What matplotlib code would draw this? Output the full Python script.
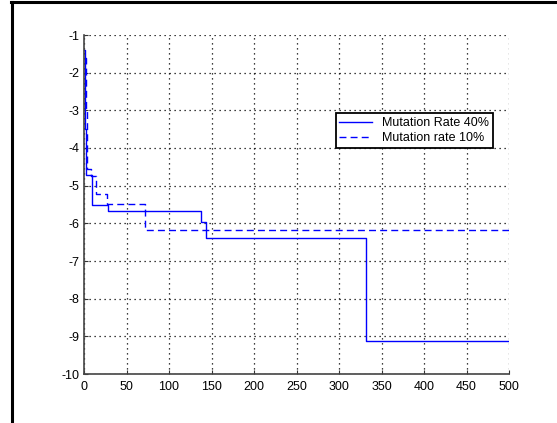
import matplotlib
matplotlib.use("Agg")
import matplotlib.pyplot as plt
from matplotlib.lines import Line2D

plt.rcParams['font.family'] = ['Liberation Sans', 'DejaVu Sans']
plt.rcParams['axes.unicode_minus'] = False

# step points (x where the value starts, value)
x40 = [0, 1, 1.5, 2, 9, 28, 138, 143, 332, 500]
y40 = [-1.4, -1.4, -3.5, -4.72, -5.52, -5.68, -5.96, -6.38, -9.12, -9.12]

x10 = [1, 2, 3, 4, 8, 14, 27, 72, 500]
y10 = [-1.6, -3.0, -4.2, -4.55, -4.75, -5.22, -5.5, -6.18, -6.18]

labels = ['Mutation Rate 40%', 'Mutation rate 10%']
xticks = list(range(0, 501, 50))
yticks = list(range(-10, 0))

fig = plt.figure(figsize=(5.57, 4.23), dpi=100)
ax = fig.add_axes([84/557, 1 - 374/423, 425/557, 339/423])

ax.step(x40, y40, where='post', color='#0000ff', lw=1.0, label=labels[0])
ax.step(x10, y10, where='post', color='#0000ff', lw=1.0, ls=(0, (5, 3)), label=labels[1])

ax.set_xlim(0, 500)
ax.set_ylim(-10, -1)
ax.set_xticks(xticks)
ax.set_yticks(yticks)
ax.tick_params(direction='in', length=3, labelsize=9, color='#333333')
ax.tick_params(axis='x', pad=5)
ax.grid(True, color='black', ls=(0, (1, 3)), lw=0.9)
for s in ['top', 'right']:
    ax.spines[s].set_visible(False)
for s in ['left', 'bottom']:
    ax.spines[s].set_color('#444444')
    ax.spines[s].set_linewidth(1.2)

leg = ax.legend(loc='upper left', bbox_to_anchor=(335.7/557, 1 - 113.3/423),
                bbox_transform=fig.transFigure, fontsize=9, frameon=True,
                fancybox=False, framealpha=1, edgecolor='black', borderpad=0.3,
                labelspacing=0.25, handlelength=2.6, handletextpad=0.8, borderaxespad=0)
leg.get_frame().set_linewidth(1.3)

# outer frame (top and left edges)
fig.add_artist(Line2D([11/557, 1], [1 - 2/423, 1 - 2/423], color='black', lw=2.2,
                      transform=fig.transFigure))
fig.add_artist(Line2D([12/557, 12/557], [0, 1 - 2/423], color='black', lw=2.2,
                      transform=fig.transFigure))

fig.savefig('out.png', dpi=100)
